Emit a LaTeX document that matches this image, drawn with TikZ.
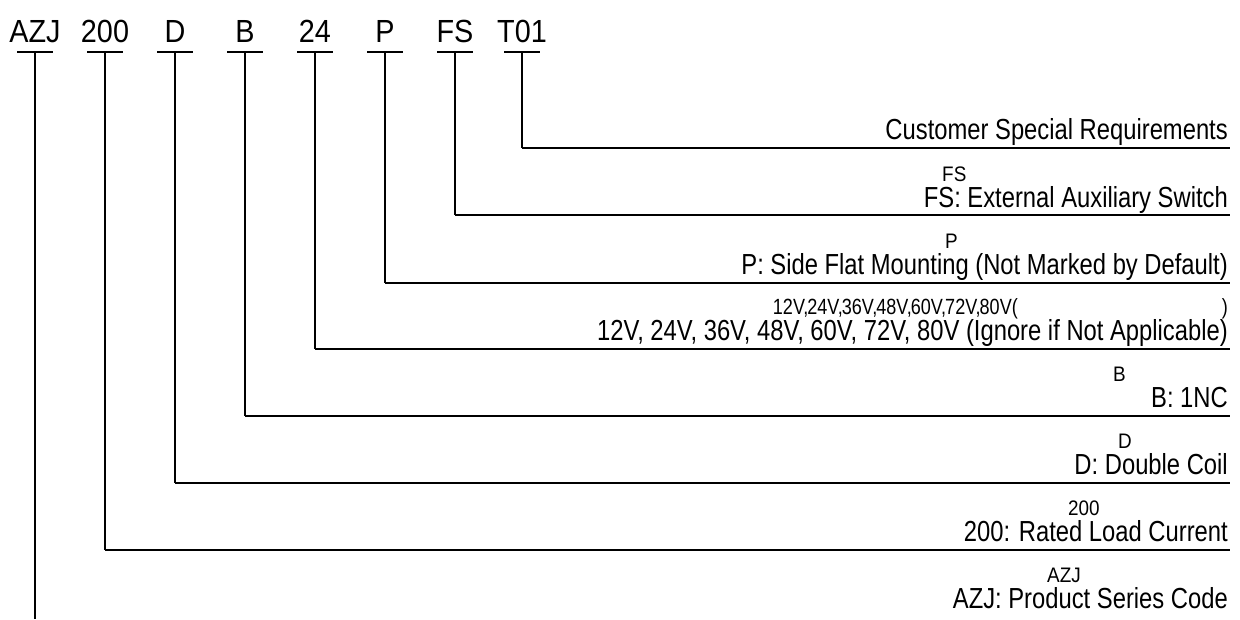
\documentclass[tikz,border=0pt]{standalone}
\usepackage{fontspec}
\setmainfont{Liberation Sans}
\newfontfamily\descfont[FakeStretch=0.82]{Liberation Sans}
\newfontfamily\codefont[FakeStretch=0.9]{Liberation Sans}
\begin{document}
\begin{tikzpicture}[x=1pt,y=-1pt,
  codetxt/.style={font=\codefont\fontsize{32}{32}\selectfont, inner sep=0pt, anchor=base},
  desc/.style={font=\descfont\fontsize{29}{29}\selectfont, inner sep=0pt, anchor=base east},
  subtxt/.style={font=\codefont\fontsize{21}{21}\selectfont, inner sep=0pt, anchor=base west},
  ln/.style={line width=1.3pt, black}]
\useasboundingbox (0,0) rectangle (1240,619);
% code letters
\foreach \n/\t/\x/\ly in {1/AZJ/35/619, 2/200/105/550, 3/D/175/483, 4/B/245/416, 5/24/315/349, 6/P/385/283, 7/FS/455/215, 8/T01/522/148}{
  \node[codetxt] (c\n) at (\x,42) {\t};
  \coordinate (ul\n) at (\x-18,52);
  \coordinate (ur\n) at (\x+18,52);
  \coordinate (top\n) at (\x,52);
  \coordinate (j\n) at (\x,\ly);
  \coordinate (e\n) at (1230,\ly);
  \draw[ln] (ul\n) -- (ur\n);
  \draw[ln] (top\n) -- (j\n);
}
\foreach \n in {2,...,8}{ \draw[ln] (j\n) -- (e\n); }
% descriptions
\node[desc] (d8) at (1228,139) {Customer Special Requirements};
\node[subtxt] (s7) at (942,181) {FS};
\node[desc] (d7) at (1228,207) {FS: External Auxiliary Switch};
\node[subtxt] (s6) at (945,248) {P};
\node[desc] (d6) at (1228,274) {P: Side Flat Mounting (Not Marked by Default)};
\node[subtxt,font=\descfont\fontsize{22}{22}\selectfont,anchor=base east] (s5) at (1228,314) {12V,\kern-1pt 24V,\kern-1pt 36V,\kern-1pt 48V,\kern-1pt 60V,\kern-1pt 72V,\kern-1pt 80V(\hspace{204pt})};
\node[desc] (d5) at (1228,340) {12V, 24V, 36V, 48V, 60V, 72V, 80V (Ignore if Not Applicable)};
\node[subtxt] (s4) at (1113,381) {B};
\node[desc] (d4) at (1228,407) {B: 1NC};
\node[subtxt] (s3) at (1118,448) {D};
\node[desc] (d3) at (1228,474) {D: Double Coil};
\node[subtxt] (s2) at (1068,515) {200};
\node[desc] (d2) at (1228,541) {200: Rated Load Current};
\node[subtxt] (s1) at (1047,582) {AZJ};
\node[desc] (d1) at (1228,608) {AZJ: Product Series Code};
\end{tikzpicture}
\end{document}
